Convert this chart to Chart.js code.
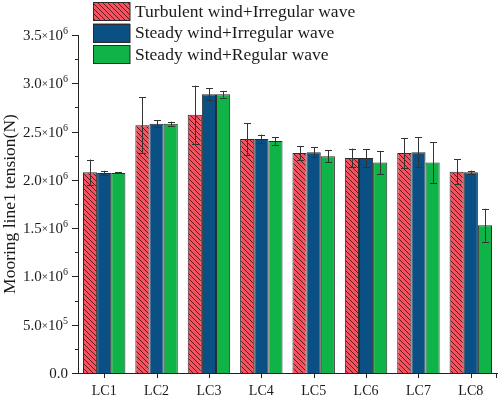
<!DOCTYPE html>
<html>
<head>
<meta charset="utf-8">
<script src="https://cdn.jsdelivr.net/npm/chart.js@4.4.1/dist/chart.umd.min.js"></script>
<style>
  html, body { margin: 0; padding: 0; background: #fff; }
  #wrap { width: 498px; height: 397px; }
</style>
</head>
<body>
<div id="wrap"><canvas id="chart" width="498" height="397"></canvas></div>
<script>
// Load cases on the x axis
const cases = ['LC1', 'LC2', 'LC3', 'LC4', 'LC5', 'LC6', 'LC7', 'LC8'];

const seriesNames = [
    'Turbulent wind+Irregular wave',
    'Steady wind+Irregular wave',
    'Steady wind+Regular wave'
];

// Mean mooring line tension (N)
const turbulentIrregular = [2.080e6, 2.565e6, 2.675e6, 2.424e6, 2.279e6, 2.227e6, 2.279e6, 2.083e6];
const steadyIrregular    = [2.072e6, 2.582e6, 2.886e6, 2.424e6, 2.286e6, 2.227e6, 2.286e6, 2.079e6];
const steadyRegular      = [2.072e6, 2.582e6, 2.886e6, 2.403e6, 2.245e6, 2.179e6, 2.179e6, 1.531e6];

// Error bar half widths (N)
const turbulentIrregularErr = [0.130e6, 0.290e6, 0.300e6, 0.165e6, 0.070e6, 0.097e6, 0.155e6, 0.130e6];
const steadyIrregularErr    = [0.022e6, 0.038e6, 0.063e6, 0.045e6, 0.053e6, 0.090e6, 0.155e6, 0.017e6];
const steadyRegularErr      = [0.006e6, 0.020e6, 0.035e6, 0.040e6, 0.060e6, 0.120e6, 0.210e6, 0.170e6];

// y tick labels: mantissa and power of ten
const yTickValues = [0, 5e5, 1e6, 1.5e6, 2e6, 2.5e6, 3e6, 3.5e6];
const yTickMantissa = ['0.0', '5.0', '1.0', '1.5', '2.0', '2.5', '3.0', '3.5'];
const yTickExponent = ['', '5', '6', '6', '6', '6', '6', '6'];

const yMin = 0;
const yMax = 3.5e6;
const yStep = 5e5;
const yMinorStep = 2.5e5;

const SERIF = "'Liberation Serif', 'Times New Roman', serif";
const RED = '#f5515e';
const BLUE = '#0a5085';
const GREEN = '#10b347';
const EDGE = '#2b2b2b';
const INK = '#1a1a1a';

function makeHatch() {
    const s = 5;
    const c = document.createElement('canvas');
    c.width = s; c.height = s;
    const g = c.getContext('2d');
    g.fillStyle = RED;
    g.fillRect(0, 0, s, s);
    g.strokeStyle = '#5a1a1f';
    g.lineWidth = 1;
    g.beginPath();
    g.moveTo(-1, -1); g.lineTo(s + 1, s + 1);
    g.moveTo(-1, s - 1); g.lineTo(1, s + 1);
    g.moveTo(s - 1, -1); g.lineTo(s + 1, 1);
    g.stroke();
    return g.createPattern(c, 'repeat');
}
const hatch = makeHatch();

const errors = [turbulentIrregularErr, steadyIrregularErr, steadyRegularErr];

// error bars, minor ticks, y labels, axis title and legend
const extras = {
    id: 'extras',
    afterDatasetsDraw(chart) {
        const ctx = chart.ctx;
        const y = chart.scales.y;
        ctx.save();
        ctx.strokeStyle = '#333';
        ctx.lineWidth = 1;
        chart.data.datasets.forEach((ds, i) => {
            const meta = chart.getDatasetMeta(i);
            meta.data.forEach((bar, j) => {
                const v = ds.data[j];
                const e = errors[i][j];
                const x = Math.round(bar.x) + 0.5;
                const top = y.getPixelForValue(v + e);
                const bot = y.getPixelForValue(v - e);
                ctx.beginPath();
                ctx.moveTo(x, top); ctx.lineTo(x, bot);
                ctx.moveTo(x - 3.5, Math.round(top) + 0.5); ctx.lineTo(x + 3.5, Math.round(top) + 0.5);
                ctx.moveTo(x - 3.5, Math.round(bot) + 0.5); ctx.lineTo(x + 3.5, Math.round(bot) + 0.5);
                ctx.stroke();
            });
        });
        ctx.restore();
    },
    afterDraw(chart) {
        const ctx = chart.ctx;
        const x = chart.scales.x;
        const y = chart.scales.y;
        const area = chart.chartArea;
        ctx.save();
        ctx.strokeStyle = '#222';
        ctx.lineWidth = 1;
        ctx.beginPath();
        for (let v = yMin; v <= yMax + 1; v += yMinorStep) {
            const py = Math.round(y.getPixelForValue(v)) + 0.5;
            const major = Math.abs(v / yStep - Math.round(v / yStep)) < 1e-6;
            ctx.moveTo(area.left, py);
            ctx.lineTo(area.left - (major ? 6 : 3), py);
        }
        cases.forEach((c, j) => {
            const px = Math.round(x.getPixelForValue(j)) + 0.5;
            ctx.moveTo(px, area.bottom);
            ctx.lineTo(px, area.bottom + 5);
        });
        ctx.moveTo(area.right - 0.5, area.bottom);
        ctx.lineTo(area.right - 0.5, area.bottom + 5);
        ctx.stroke();

        // y tick labels written as m.m x 10^n
        ctx.fillStyle = INK;
        ctx.textBaseline = 'alphabetic';
        ctx.textAlign = 'left';
        yTickValues.forEach((v, k) => {
            const py = y.getPixelForValue(v);
            const base = py + 5;
            const mant = yTickMantissa[k];
            const exp = yTickExponent[k];
            ctx.font = '15px ' + SERIF;
            if (!exp) {
                const w = ctx.measureText(mant).width;
                ctx.fillText(mant, 68 - w, base);
                return;
            }
            const wM = ctx.measureText(mant).width;
            const wT = ctx.measureText('10').width;
            ctx.font = '11px ' + SERIF;
            const wX = ctx.measureText('\u00d7').width;
            ctx.font = '10px ' + SERIF;
            const wE = ctx.measureText(exp).width;
            let cx = 68 - (wM + wX + wT + wE);
            ctx.font = '15px ' + SERIF;
            ctx.fillText(mant, cx, base); cx += wM;
            ctx.font = '11px ' + SERIF;
            ctx.fillText('\u00d7', cx, base - 1); cx += wX;
            ctx.font = '15px ' + SERIF;
            ctx.fillText('10', cx, base); cx += wT;
            ctx.font = '10px ' + SERIF;
            ctx.fillText(exp, cx, base - 6);
        });

        // y axis title
        ctx.fillStyle = INK;
        ctx.font = '17.5px ' + SERIF;
        ctx.textAlign = 'center';
        ctx.textBaseline = 'middle';
        ctx.translate(10, (area.top + area.bottom) / 2);
        ctx.rotate(-Math.PI / 2);
        ctx.fillText('Mooring line1 tension(N)', 0, 0);
        ctx.setTransform(1, 0, 0, 1, 0, 0);

        // legend
        const fills = [hatch, BLUE, GREEN];
        ctx.font = '17.5px ' + SERIF;
        ctx.textAlign = 'left';
        seriesNames.forEach((name, i) => {
            const top = 2 + i * 21.5;
            ctx.fillStyle = fills[i];
            ctx.fillRect(93, top, 37, 18.5);
            ctx.strokeStyle = EDGE;
            ctx.strokeRect(93.5, Math.round(top) + 0.5, 36.5, 18);
            ctx.fillStyle = INK;
            ctx.fillText(name, 135, top + 10);
        });
        ctx.restore();
    }
};

new Chart(document.getElementById('chart'), {
    type: 'bar',
    data: {
        labels: cases,
        datasets: [
            { label: seriesNames[0], data: turbulentIrregular, backgroundColor: hatch, borderColor: EDGE, borderWidth: 1 },
            { label: seriesNames[1], data: steadyIrregular, backgroundColor: BLUE, borderColor: EDGE, borderWidth: 1 },
            { label: seriesNames[2], data: steadyRegular, backgroundColor: GREEN, borderColor: EDGE, borderWidth: 1 }
        ]
    },
    options: {
        responsive: false,
        animation: false,
        layout: { padding: { top: 35, right: 1, left: 0, bottom: 0 } },
        datasets: { bar: { categoryPercentage: 0.81, barPercentage: 1.0 } },
        plugins: { legend: { display: false }, tooltip: { enabled: false } },
        scales: {
            x: {
                grid: { display: false },
                border: { display: true, color: '#222', width: 1 },
                ticks: { color: INK, font: { family: SERIF, size: 14 }, padding: 2, maxRotation: 0 },
                afterFit(scale) { scale.height = 24; }
            },
            y: {
                min: yMin,
                max: yMax,
                grid: { display: false },
                border: { display: true, color: '#222', width: 1 },
                ticks: { display: false, stepSize: yStep },
                afterFit(scale) { scale.width = 78; }
            }
        }
    },
    plugins: [extras]
});
</script>
</body>
</html>
